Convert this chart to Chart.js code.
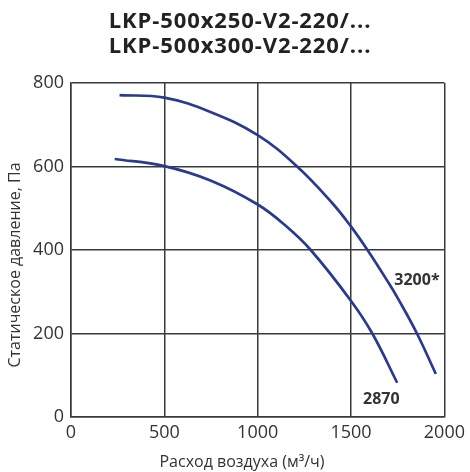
<!DOCTYPE html>
<html>
<head>
<meta charset="utf-8">
<script src="https://cdn.jsdelivr.net/npm/chart.js@4"></script>
<style>
  html, body { margin: 0; padding: 0; background: #fff; }
  #wrap { width: 470px; height: 472px; }
</style>
</head>
<body>
<div id="wrap"><canvas id="chart"></canvas></div>
<script>
const titleLines = ['LKP-500x250-V2-220/...', 'LKP-500x300-V2-220/...'];
const xTitle = 'Расход воздуха (м³/ч)';
const yTitle = 'Статическое давление, Па';
const xTicks = [0, 500, 1000, 1500, 2000];
const yTicks = [0, 200, 400, 600, 800];

// curve 3200*
const flowA = [260, 500, 750, 1000, 1211, 1400, 1500, 1588, 1700, 1756, 1853, 1954];
const pressA = [771, 765, 730, 675, 600, 512, 456, 400, 322, 280, 200, 103];
// curve 2870
const flowB = [234, 500, 750, 1000, 1150, 1284, 1500, 1614, 1747];
const pressB = [618, 601, 566, 509, 458, 400, 278, 200, 82];

const curveLabels = [
    { text: '3200*', x: 1853, y: 328 },
    { text: '2870', x: 1662, y: 41 }
];

const lineColor = '#2a3a8f';
const gridColor = '#3a3a3a';
const textColor = '#333';

function toPoints(xs, ys) {
    return xs.map((x, i) => ({ x: x, y: ys[i] }));
}

// title, axis titles and curve labels
const textPlugin = {
    id: 'texts',
    afterDraw(chart) {
        const ctx = chart.ctx;
        const xs = chart.scales.x;
        const ys = chart.scales.y;
        ctx.save();
        ctx.textAlign = 'center';

        ctx.font = 'bold 22px "Open Sans"';
        ctx.letterSpacing = '0.9px';
        ctx.fillStyle = '#222';
        ctx.textBaseline = 'alphabetic';
        ctx.fillText(titleLines[0], 240, 28);
        ctx.fillText(titleLines[1], 240, 52.5);
        ctx.letterSpacing = '0px';

        ctx.fillStyle = textColor;
        ctx.font = '16px "Open Sans"';
        ctx.fillText(xTitle, 242, 467);

        ctx.save();
        ctx.translate(15, 265);
        ctx.rotate(-Math.PI / 2);
        ctx.textBaseline = 'middle';
        ctx.fillText(yTitle, 0, 0);
        ctx.restore();

        ctx.font = 'bold 16px "Open Sans"';
        ctx.textBaseline = 'middle';
        curveLabels.forEach(l => {
            ctx.fillText(l.text, xs.getPixelForValue(l.x), ys.getPixelForValue(l.y));
        });
        ctx.restore();
    }
};

new Chart(document.getElementById('chart'), {
    type: 'line',
    data: {
        datasets: [
            { label: '3200*', data: toPoints(flowA, pressA) },
            { label: '2870', data: toPoints(flowB, pressB) }
        ]
    },
    options: {
        responsive: true,
        maintainAspectRatio: false,
        animation: false,
        layout: { padding: { left: 0, right: 23, top: 83, bottom: 0 } },
        elements: {
            line: { borderColor: lineColor, borderWidth: 2.7, tension: 0.4, fill: false },
            point: { radius: 0 }
        },
        plugins: {
            legend: { display: false },
            tooltip: { enabled: false },
            title: { display: false }
        },
        scales: {
            x: {
                type: 'linear',
                min: 0,
                max: 2000,
                afterBuildTicks: s => { s.ticks = xTicks.map(v => ({ value: v })); },
                afterFit: s => { s.height = 55; },
                grid: { color: gridColor, lineWidth: 1.5, drawTicks: false },
                border: { color: gridColor, width: 1.5 },
                ticks: {
                    color: textColor, padding: 5,
                    font: { family: '"Open Sans"', size: 18 },
                    callback: v => String(v)
                }
            },
            y: {
                type: 'linear',
                min: 0,
                max: 800,
                afterBuildTicks: s => { s.ticks = yTicks.map(v => ({ value: v })); },
                afterFit: s => { s.width = 71; },
                grid: { color: gridColor, lineWidth: 1.5, drawTicks: false },
                border: { color: gridColor, width: 1.5 },
                ticks: {
                    color: textColor, padding: 7,
                    font: { family: '"Open Sans"', size: 18 },
                    callback: v => String(v)
                }
            }
        }
    },
    plugins: [textPlugin]
});
</script>
</body>
</html>
